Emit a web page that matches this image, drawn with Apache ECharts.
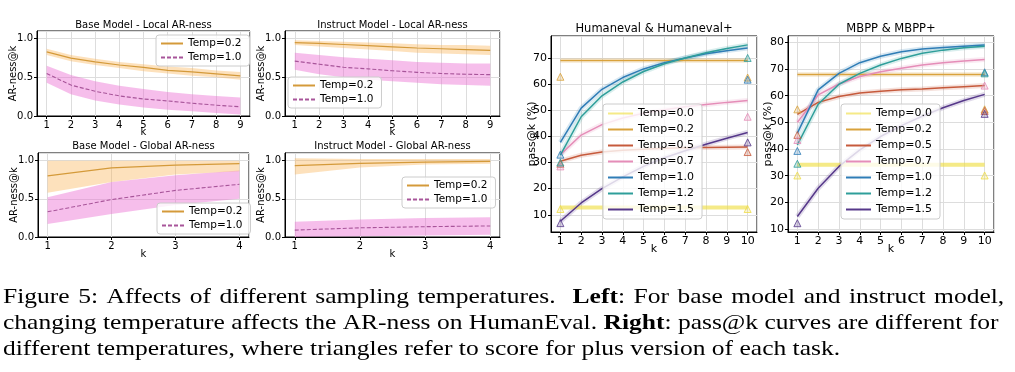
<!DOCTYPE html>
<html><head><meta charset="utf-8">
<script src="https://cdn.jsdelivr.net/npm/echarts@6/dist/echarts.min.js"></script>
<style>html,body{margin:0;padding:0;background:#fff}#c{width:1015px;height:372px}</style>
</head><body><div id="c"></div>
<script>
// ---------- categories ----------
const kLocal = [1, 2, 3, 4, 5, 6, 7, 8, 9];
const kGlobal = [1, 2, 3, 4];
const kPass = [1, 2, 3, 4, 5, 6, 7, 8, 9, 10];
const kPlus = [1, 10];
const tempNames = ['Temp=0.0', 'Temp=0.2', 'Temp=0.5', 'Temp=0.7', 'Temp=1.0', 'Temp=1.2', 'Temp=1.5'];
const leftNames = ['Temp=0.2', 'Temp=1.0'];
const titles = ['Base Model - Local AR-ness', 'Instruct Model - Local AR-ness', 'Base Model - Global AR-ness', 'Instruct Model - Global AR-ness', 'Humaneval & Humaneval+', 'MBPP & MBPP+'];

// ---------- AR-ness (left) ----------
const baseLocal02   = [0.83, 0.75, 0.70, 0.66, 0.63, 0.59, 0.57, 0.545, 0.52];
const baseLocal02Lo = [0.79, 0.71, 0.66, 0.62, 0.58, 0.55, 0.52, 0.50, 0.47];
const baseLocal02Hi = [0.87, 0.79, 0.74, 0.70, 0.67, 0.64, 0.62, 0.59, 0.57];
const baseLocal10   = [0.55, 0.40, 0.32, 0.26, 0.22, 0.195, 0.165, 0.14, 0.12];
const baseLocal10Lo = [0.43, 0.28, 0.20, 0.15, 0.11, 0.08, 0.06, 0.04, 0.02];
const baseLocal10Hi = [0.65, 0.53, 0.45, 0.39, 0.35, 0.31, 0.28, 0.26, 0.24];

const instLocal02   = [0.95, 0.94, 0.925, 0.91, 0.895, 0.88, 0.87, 0.86, 0.85];
const instLocal02Lo = [0.92, 0.90, 0.88, 0.86, 0.84, 0.82, 0.81, 0.80, 0.79];
const instLocal02Hi = [0.98, 0.97, 0.96, 0.95, 0.94, 0.93, 0.92, 0.92, 0.91];
const instLocal10   = [0.71, 0.67, 0.63, 0.61, 0.585, 0.565, 0.55, 0.54, 0.535];
const instLocal10Lo = [0.60, 0.54, 0.50, 0.47, 0.45, 0.43, 0.41, 0.40, 0.39];
const instLocal10Hi = [0.82, 0.79, 0.76, 0.74, 0.72, 0.70, 0.69, 0.68, 0.68];

const baseGlobal02   = [0.80, 0.905, 0.94, 0.96];
const baseGlobal02Lo = [0.58, 0.72, 0.82, 0.86];
const baseGlobal02Hi = [1.0, 1.0, 1.0, 1.0];
const baseGlobal10   = [0.33, 0.49, 0.61, 0.69];
const baseGlobal10Lo = [0.17, 0.30, 0.42, 0.50];
const baseGlobal10Hi = [0.52, 0.72, 0.81, 0.87];

const instGlobal02   = [0.935, 0.965, 0.98, 0.99];
const instGlobal02Lo = [0.82, 0.91, 0.95, 0.96];
const instGlobal02Hi = [1.03, 1.02, 1.02, 1.02];
const instGlobal10   = [0.09, 0.12, 0.135, 0.145];
const instGlobal10Lo = [0.0, 0.01, 0.02, 0.03];
const instGlobal10Hi = [0.20, 0.23, 0.25, 0.26];

// ---------- pass@k Humaneval ----------
const he00 = [12.8, 12.8, 12.8, 12.8, 12.8, 12.8, 12.8, 12.8, 12.8, 12.8];
const he02 = [69.0, 69.0, 69.0, 69.0, 69.0, 69.0, 69.0, 69.0, 69.0, 69.0];
const he05 = [30.5, 32.8, 34.0, 34.7, 35.1, 35.4, 35.6, 35.7, 35.8, 35.9];
const he07 = [33.0, 40.5, 44.5, 47.0, 48.8, 50.2, 51.3, 52.2, 53.0, 53.7];
const he10 = [37.7, 50.8, 58.0, 62.5, 65.8, 68.2, 70.0, 71.6, 72.8, 73.8];
const he12 = [32.8, 47.5, 55.5, 60.8, 64.8, 67.8, 70.0, 72.0, 73.6, 75.0];
const he15 = [7.5, 14.5, 20.0, 24.5, 28.5, 31.8, 34.5, 37.0, 39.3, 41.5];
const he00p = [12.2, 12.2];
const he02p = [62.8, 62.5];
const he05p = [29.5, 34.0];
const he07p = [28.5, 47.5];
const he10p = [33.0, 61.7];
const he12p = [30.0, 70.0];
const he15p = [6.8, 37.7];

// ---------- pass@k MBPP ----------
const mb00 = [34.1, 34.1, 34.1, 34.1, 34.1, 34.1, 34.1, 34.1, 34.1, 34.1];
const mb02 = [68.0, 68.0, 68.0, 68.0, 68.0, 68.0, 68.0, 68.0, 68.0, 68.0];
const mb05 = [53.0, 57.5, 59.7, 61.0, 61.7, 62.2, 62.5, 63.0, 63.4, 63.8];
const mb07 = [50.0, 60.3, 64.4, 67.2, 69.0, 70.3, 71.5, 72.4, 73.0, 73.6];
const mb10 = [46.0, 62.2, 68.4, 72.4, 74.8, 76.5, 77.5, 78.1, 78.6, 79.0];
const mb12 = [41.6, 56.8, 64.3, 68.4, 71.5, 74.0, 75.9, 77.1, 78.0, 78.6];
const mb15 = [14.7, 25.3, 33.5, 39.7, 44.7, 48.8, 52.3, 55.5, 58.2, 60.5];
const mb00p = [30.1, 30.1];
const mb02p = [54.9, 54.9];
const mb05p = [45.3, 54.3];
const mb07p = [43.4, 63.8];
const mb10p = [39.3, 68.8];
const mb12p = [34.5, 68.4];
const mb15p = [12.2, 53.2];

// ---------- caption ----------
const captionLines = [
  'Figure 5: Affects of different sampling temperatures.  {b|Left}: For base model and instruct model,',
  'changing temperature affects the AR-ness on HumanEval. {b|Right}: pass@k curves are different for',
  'different temperatures, where triangles refer to score for plus version of each task.'
];

// ---------- styles ----------
const FONT = 'DejaVu Sans';
const SERIF = 'Liberation Serif';
const L02 = '#d49a3a', L02band = 'rgba(250,175,80,0.38)';
const L10 = '#a8559a', L10band = 'rgba(236,110,210,0.45)';
const tempColors = ['#eedc4a', '#d9a23c', '#c65a3c', '#e58db8', '#2f7db6', '#2e9e9a', '#56388a'];

function pts(xs, ys) { return xs.map((x, i) => [x, ys[i]]); }
function rgba(hex, a) {
  const n = parseInt(hex.slice(1), 16);
  return 'rgba(' + ((n >> 16) & 255) + ',' + ((n >> 8) & 255) + ',' + (n & 255) + ',' + a + ')';
}

const series = [];
function addBand(id, g, xs, lo, hi, color) {
  const rows = xs.map((x, i) => [x, lo[i], hi[i]]);
  series.push({ type: 'custom', name: id, xAxisIndex: g, yAxisIndex: g, data: rows, encode: { x: 0, y: [1, 2] },
    silent: true, z: 1, clip: true,
    renderItem: function (params, api) {
      if (params.dataIndex !== 0) return null;
      const top = rows.map(r => api.coord([r[0], r[2]]));
      const bot = rows.map(r => api.coord([r[0], r[1]])).reverse();
      return { type: 'polygon', shape: { points: top.concat(bot) }, style: { fill: color } };
    } });
}
function addLine(name, g, xs, ys, color, width, dashed) {
  series.push({ type: 'line', name: name, xAxisIndex: g, yAxisIndex: g, data: pts(xs, ys), symbol: 'none',
    lineStyle: { color: color, width: width, type: dashed ? [4, 2] : 'solid' }, itemStyle: { color: color }, z: 3 });
}
function addHalo(name, g, xs, ys, color) {
  series.push({ type: 'line', name: name, xAxisIndex: g, yAxisIndex: g, data: pts(xs, ys), symbol: 'none',
    lineStyle: { color: color, width: 5, opacity: 0.18 }, silent: true, z: 2 });
}
function addTri(name, g, xs, ys, color) {
  series.push({ type: 'scatter', name: name, xAxisIndex: g, yAxisIndex: g, data: pts(xs, ys), symbol: 'triangle',
    symbolSize: 7, itemStyle: { color: rgba(color, 0.3), borderColor: color, borderWidth: 1 }, z: 4 });
}

// left panels
const leftSets = [
  ['BL', 0, kLocal, baseLocal02, baseLocal02Lo, baseLocal02Hi, baseLocal10, baseLocal10Lo, baseLocal10Hi],
  ['IL', 1, kLocal, instLocal02, instLocal02Lo, instLocal02Hi, instLocal10, instLocal10Lo, instLocal10Hi],
  ['BG', 2, kGlobal, baseGlobal02, baseGlobal02Lo, baseGlobal02Hi, baseGlobal10, baseGlobal10Lo, baseGlobal10Hi],
  ['IG', 3, kGlobal, instGlobal02, instGlobal02Lo, instGlobal02Hi, instGlobal10, instGlobal10Lo, instGlobal10Hi]
];
leftSets.forEach(s => {
  const [p, g, xs, a, aLo, aHi, b, bLo, bHi] = s;
  addBand(p + 'band10', g, xs, bLo, bHi, L10band);
  addBand(p + 'band02', g, xs, aLo, aHi, L02band);
  addLine(p + '|' + leftNames[0], g, xs, a, L02, 1.2, false);
  addLine(p + '|' + leftNames[1], g, xs, b, L10, 1.1, true);
});

// right panels
const heLines = [he00, he02, he05, he07, he10, he12, he15];
const hePlus = [he00p, he02p, he05p, he07p, he10p, he12p, he15p];
const mbLines = [mb00, mb02, mb05, mb07, mb10, mb12, mb15];
const mbPlus = [mb00p, mb02p, mb05p, mb07p, mb10p, mb12p, mb15p];
[['HE', 4, heLines, hePlus], ['MB', 5, mbLines, mbPlus]].forEach(s => {
  const [p, g, lines, plus] = s;
  lines.forEach((ys, i) => {
    const c = tempColors[i];
    if (i === 0) {
      addLine(p + '|' + tempNames[i], g, kPass, ys, 'rgba(240,222,70,0.65)', 4, false);
    } else {
      addHalo(p + 'halo' + i, g, kPass, ys, c);
      addLine(p + '|' + tempNames[i], g, kPass, ys, c, 1.5, false);
    }
  });
  plus.forEach((ys, i) => addTri(p + 'plus' + i, g, kPlus, ys, tempColors[i]));
});

// ---------- layout ----------
const grids = [
  { left: 37, top: 31, width: 213, height: 85 },
  { left: 285, top: 31, width: 215, height: 85 },
  { left: 38, top: 153, width: 211, height: 84 },
  { left: 285, top: 153, width: 215, height: 84 },
  { left: 551, top: 36, width: 206, height: 196 },
  { left: 788, top: 36, width: 206, height: 196 }
].map(g => Object.assign(g, { show: true, borderColor: '#000', borderWidth: 1, backgroundColor: 'rgba(0,0,0,0)', containLabel: false, outerBoundsMode: 'none' }));

function xAx(g, min, max, split, fs, gap) {
  return { type: 'value', gridIndex: g, min: min, max: max, splitNumber: split, name: 'k', nameLocation: 'middle', nameGap: gap,
    nameMoveOverlap: false,
    nameTextStyle: { fontFamily: FONT, fontSize: fs, color: '#000' },
    axisLine: { show: true, onZero: false, lineStyle: { color: '#000', width: 1 } },
    axisTick: { show: true, inside: false, length: 3, lineStyle: { color: '#000', width: 1 } },
    axisLabel: { show: true, showMinLabel: false, showMaxLabel: false, margin: 4, fontFamily: FONT, fontSize: fs, color: '#000' },
    splitLine: { show: true, lineStyle: { color: '#dddddd', width: 1 } } };
}
function yAx(g, min, max, opts, fs, gap, name, fmt) {
  return Object.assign({ type: 'value', gridIndex: g, min: min, max: max, name: name, nameLocation: 'middle', nameGap: gap,
    nameMoveOverlap: false,
    nameTextStyle: { fontFamily: FONT, fontSize: fs, color: '#000' },
    axisLine: { show: true, onZero: false, lineStyle: { color: '#000', width: 1 } },
    axisTick: { show: true, inside: false, length: 3, lineStyle: { color: '#000', width: 1 } },
    axisLabel: { show: true, showMinLabel: false, showMaxLabel: false, margin: 4, fontFamily: FONT, fontSize: fs, color: '#000', formatter: fmt },
    splitLine: { show: true, lineStyle: { color: '#dddddd', width: 1 } } }, opts);
}
const f1 = v => v.toFixed(1);
const f0 = v => String(Math.round(v));
const xAxes = [
  xAx(0, 0.6, 9.4, 9, 10, 11), xAx(1, 0.6, 9.4, 9, 10, 11),
  xAx(2, 0.85, 4.15, 3, 10, 12), xAx(3, 0.85, 4.15, 3, 10, 12),
  xAx(4, 0.55, 10.45, 10, 11, 12), xAx(5, 0.55, 10.45, 10, 11, 12)
];
const yLeft = g => {
  const a = yAx(g, 0, 1.1, { interval: 0.5 }, 10, 19, 'AR-ness@k', f1);
  a.axisLabel.showMinLabel = true;
  return a;
};
const yAxes = [yLeft(0), yLeft(1), yLeft(2), yLeft(3),
  yAx(4, 3.4, 78.4, { splitNumber: 7 }, 11, 13, 'pass@k (%)', f0),
  yAx(5, 8.9, 82.4, { splitNumber: 7 }, 11, 14, 'pass@k (%)', f0)];

function legendAt(prefix, names, left, top, big) {
  return { data: names.map(n => prefix + '|' + n), orient: 'vertical', left: left, top: top,
    itemWidth: big ? 25 : 22, itemHeight: big ? 12 : 10, itemGap: big ? 5 : 3,
    padding: big ? [4, 8, 4, 4] : [3, 8, 3, 4],
    itemStyle: { opacity: 0 },
    backgroundColor: 'rgba(255,255,255,0.8)', borderColor: '#cccccc', borderWidth: 1, borderRadius: 3,
    selectedMode: false, formatter: n => n.split('|')[1],
    textStyle: { fontFamily: FONT, fontSize: big ? 11 : 10.5, color: '#000' } };
}
const legends = [
  legendAt('BL', leftNames, 156, 35, false),
  legendAt('IL', leftNames, 288, 77, false),
  legendAt('BG', leftNames, 157, 203, false),
  legendAt('IG', leftNames, 402, 177, false),
  legendAt('HE', tempNames, 603, 104, true),
  legendAt('MB', tempNames, 841, 104, true)
];

const titlePos = [[143.5, 25, 10], [392.5, 25, 10], [143.5, 146.5, 10], [392.5, 146.5, 10], [654, 29, 11.5], [891, 29, 11.5]];
const graphics = titles.map((t, i) => ({ type: 'text', x: titlePos[i][0], y: titlePos[i][1], silent: true,
  style: { text: t, fontFamily: FONT, fontSize: titlePos[i][2], fill: '#000', align: 'center', verticalAlign: 'middle', textAlign: 'center', textVerticalAlign: 'middle' } }));
const capY = [297, 323, 349];
captionLines.forEach((t, i) => graphics.push({ type: 'text', x: 3, y: capY[i], scaleX: 1.16, scaleY: 1, silent: true,
  style: { text: i === 0 ? t.replace(/ /g, ' \u200a') : t, fontFamily: SERIF, fontSize: 22, fill: '#000', align: 'left', verticalAlign: 'middle', textVerticalAlign: 'middle',
    rich: { b: { fontFamily: SERIF, fontSize: 22, fontWeight: 'bold', fill: '#000' } } } }));

const chart = echarts.init(document.getElementById('c'), null, { renderer: 'canvas' });
chart.setOption({
  animation: false,
  backgroundColor: '#ffffff',
  textStyle: { fontFamily: FONT },
  grid: grids, xAxis: xAxes, yAxis: yAxes, legend: legends, series: series, graphic: graphics
});
</script></body></html>
